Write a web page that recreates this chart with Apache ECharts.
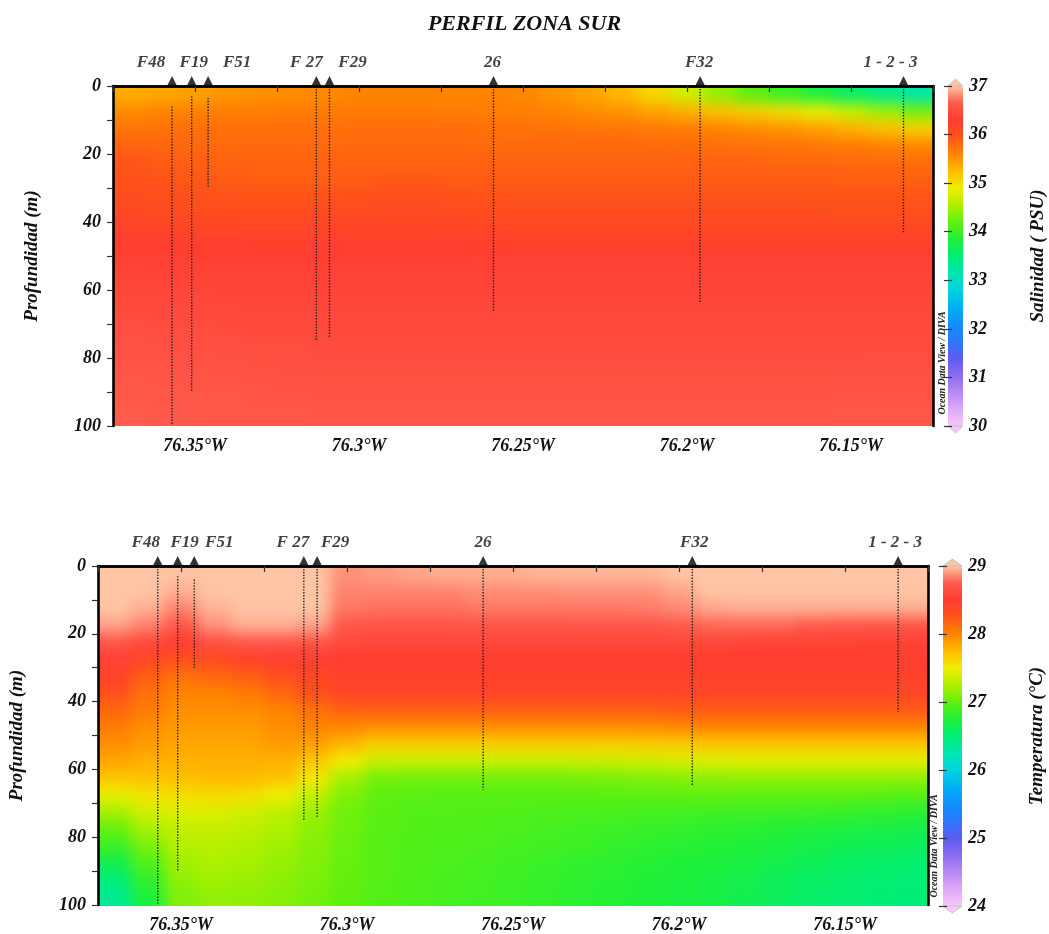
<!DOCTYPE html>
<html>
<head>
<meta charset="utf-8">
<script src="https://cdn.jsdelivr.net/npm/echarts@6/dist/echarts.min.js"></script>
<style>
html,body{margin:0;padding:0;background:#fff}
#chart{width:1049px;height:934px}
/* the gridded fields live on their own layer: soften cell edges, keep them inside the frames */
#chart canvas[data-zr-dom-id="zr_0"]{
  filter: blur(7px);
  clip-path: path('M113 86H933V426H113Z M98 566H928V906H98Z');
}
</style>
</head>
<body>
<div id="chart"></div>
<script>
// Section grid: cell centres (degrees W, metres)
const cellLon = [76.37,76.36,76.35,76.34,76.33,76.32,76.31,76.30,76.29,76.28,76.27,76.26,76.25,76.24,76.23,76.22,76.21,76.20,76.19,76.18,76.17,76.16,76.15,76.14,76.13];
const cellDepth = [2.5,7.5,12.5,17.5,22.5,27.5,32.5,37.5,42.5,47.5,52.5,57.5,62.5,67.5,72.5,77.5,82.5,87.5,92.5,97.5];

// Salinity (PSU), one row per depth level, west to east
const salinity = [
[35.35,35.38,35.42,35.48,35.52,35.55,35.57,35.60,35.60,35.60,35.60,35.60,35.58,35.50,35.40,35.28,35.05,34.72,34.42,34.18,34.00,33.80,33.58,33.38,33.20],
[35.55,35.60,35.62,35.65,35.65,35.66,35.66,35.67,35.67,35.67,35.66,35.65,35.63,35.60,35.55,35.50,35.42,35.33,35.22,35.12,35.02,34.88,34.68,34.48,34.30],
[35.72,35.74,35.75,35.75,35.75,35.75,35.75,35.76,35.76,35.76,35.76,35.75,35.74,35.73,35.72,35.70,35.68,35.65,35.60,35.55,35.50,35.42,35.32,35.22,35.10],
[35.85,35.82,35.80,35.80,35.80,35.80,35.80,35.80,35.80,35.80,35.80,35.80,35.80,35.80,35.80,35.80,35.80,35.78,35.76,35.74,35.72,35.70,35.66,35.62,35.58],
[35.95,35.90,35.86,35.85,35.84,35.84,35.84,35.84,35.85,35.85,35.85,35.85,35.85,35.85,35.85,35.85,35.85,35.85,35.84,35.83,35.82,35.82,35.80,35.80,35.78],
[36.00,35.96,35.92,35.90,35.88,35.88,35.88,35.90,35.92,35.92,35.90,35.90,35.90,35.90,35.90,35.90,35.90,35.90,35.90,35.90,35.90,35.90,35.88,35.88,35.86],
[36.05,36.02,36.00,35.98,35.96,35.96,35.98,36.00,36.02,36.02,36.00,35.98,35.97,35.97,35.97,35.97,35.97,35.97,35.97,35.97,35.97,35.96,35.95,35.95,35.94],
[36.12,36.10,36.08,36.07,36.06,36.06,36.08,36.10,36.10,36.10,36.08,36.07,36.06,36.06,36.06,36.06,36.06,36.06,36.06,36.06,36.06,36.05,36.04,36.04,36.04],
[36.22,36.20,36.19,36.18,36.17,36.17,36.18,36.19,36.19,36.19,36.18,36.17,36.16,36.16,36.16,36.16,36.16,36.16,36.16,36.16,36.16,36.16,36.16,36.16,36.16],
[36.31,36.30,36.29,36.28,36.27,36.27,36.27,36.27,36.27,36.27,36.27,36.26,36.26,36.26,36.26,36.26,36.26,36.26,36.26,36.26,36.26,36.26,36.26,36.26,36.26],
[36.37,36.36,36.36,36.35,36.35,36.35,36.35,36.35,36.35,36.35,36.35,36.35,36.35,36.35,36.35,36.35,36.35,36.35,36.35,36.35,36.35,36.35,36.35,36.35,36.35],
[36.41,36.40,36.40,36.39,36.39,36.39,36.39,36.39,36.39,36.39,36.39,36.39,36.39,36.39,36.39,36.39,36.39,36.39,36.39,36.39,36.39,36.39,36.39,36.39,36.39],
[36.45,36.44,36.43,36.42,36.42,36.42,36.42,36.42,36.42,36.42,36.42,36.42,36.42,36.42,36.42,36.42,36.42,36.42,36.42,36.42,36.42,36.42,36.42,36.42,36.42],
[36.49,36.48,36.47,36.46,36.45,36.45,36.45,36.45,36.45,36.45,36.45,36.45,36.45,36.45,36.45,36.45,36.45,36.45,36.45,36.45,36.45,36.45,36.45,36.45,36.45],
[36.52,36.51,36.50,36.49,36.48,36.47,36.47,36.47,36.47,36.47,36.47,36.47,36.47,36.47,36.47,36.47,36.47,36.47,36.47,36.47,36.47,36.47,36.47,36.47,36.47],
[36.55,36.54,36.53,36.52,36.51,36.50,36.49,36.49,36.49,36.49,36.49,36.49,36.49,36.49,36.49,36.49,36.49,36.49,36.49,36.49,36.49,36.49,36.49,36.49,36.49],
[36.58,36.57,36.56,36.55,36.53,36.52,36.51,36.51,36.51,36.51,36.51,36.51,36.51,36.51,36.51,36.51,36.51,36.51,36.51,36.51,36.51,36.51,36.51,36.52,36.52],
[36.61,36.60,36.59,36.58,36.56,36.55,36.54,36.54,36.54,36.54,36.54,36.54,36.54,36.54,36.54,36.54,36.54,36.54,36.54,36.54,36.54,36.54,36.55,36.55,36.55],
[36.64,36.63,36.62,36.61,36.59,36.58,36.57,36.57,36.57,36.57,36.57,36.57,36.57,36.57,36.57,36.57,36.57,36.57,36.57,36.57,36.57,36.57,36.58,36.58,36.58],
[36.66,36.65,36.64,36.63,36.62,36.61,36.60,36.60,36.60,36.60,36.60,36.60,36.60,36.60,36.60,36.60,36.60,36.60,36.60,36.60,36.60,36.60,36.61,36.61,36.61]
];

// Temperature (°C), one row per depth level, west to east
const temperature = [
[29.00,29.00,29.00,29.00,29.00,29.00,29.00,28.88,28.90,28.93,28.95,28.95,28.95,28.97,28.97,28.97,28.97,29.00,29.00,29.00,29.00,29.00,29.00,29.00,29.00],
[29.00,29.00,28.95,29.00,29.00,29.00,29.00,28.85,28.85,28.85,28.85,28.87,28.87,28.87,28.88,28.88,28.88,28.92,29.00,29.00,29.00,29.00,29.00,29.00,29.00],
[29.00,28.95,28.85,28.96,29.00,29.00,29.00,28.82,28.80,28.80,28.80,28.82,28.82,28.82,28.82,28.82,28.83,28.86,28.93,28.95,28.95,28.95,28.95,28.95,28.95],
[28.92,28.84,28.72,28.88,28.95,28.95,28.92,28.72,28.70,28.70,28.70,28.70,28.70,28.70,28.72,28.72,28.72,28.75,28.78,28.78,28.78,28.75,28.72,28.70,28.70],
[28.70,28.60,28.52,28.64,28.72,28.72,28.70,28.62,28.60,28.60,28.60,28.60,28.60,28.60,28.60,28.60,28.60,28.58,28.58,28.56,28.55,28.55,28.55,28.55,28.55],
[28.55,28.40,28.30,28.35,28.45,28.50,28.52,28.50,28.48,28.48,28.48,28.48,28.48,28.48,28.48,28.48,28.48,28.48,28.48,28.48,28.48,28.48,28.48,28.48,28.48],
[28.45,28.20,28.10,28.15,28.20,28.30,28.40,28.45,28.45,28.45,28.45,28.45,28.45,28.45,28.45,28.45,28.45,28.45,28.45,28.45,28.45,28.45,28.45,28.45,28.45],
[28.30,28.10,28.00,28.00,28.05,28.15,28.30,28.42,28.42,28.42,28.42,28.42,28.42,28.42,28.42,28.42,28.42,28.40,28.40,28.40,28.40,28.40,28.40,28.40,28.40],
[28.15,28.05,27.95,27.95,27.95,28.00,28.10,28.18,28.20,28.20,28.20,28.20,28.20,28.20,28.20,28.20,28.20,28.22,28.22,28.22,28.22,28.22,28.22,28.22,28.22],
[28.05,27.95,27.90,27.90,27.90,27.95,28.00,27.98,27.95,27.95,27.95,27.95,27.95,27.95,27.95,27.95,27.96,27.98,28.00,28.00,28.00,28.00,28.00,28.00,28.00],
[27.95,27.90,27.85,27.85,27.85,27.90,27.88,27.78,27.65,27.65,27.65,27.65,27.65,27.65,27.65,27.65,27.66,27.68,27.70,27.70,27.70,27.70,27.70,27.70,27.70],
[27.85,27.80,27.80,27.80,27.80,27.80,27.70,27.50,27.35,27.35,27.35,27.35,27.35,27.35,27.35,27.36,27.38,27.40,27.42,27.44,27.45,27.45,27.45,27.45,27.45],
[27.70,27.72,27.74,27.76,27.76,27.72,27.52,27.22,27.06,27.05,27.05,27.05,27.05,27.05,27.06,27.08,27.10,27.12,27.14,27.15,27.15,27.15,27.15,27.15,27.15],
[27.48,27.55,27.58,27.60,27.58,27.50,27.32,27.10,27.00,26.98,26.97,26.97,26.97,26.97,26.97,26.98,26.99,27.00,27.00,27.00,27.00,27.00,27.00,26.98,26.96],
[27.22,27.38,27.42,27.42,27.38,27.30,27.18,27.05,26.98,26.95,26.95,26.95,26.94,26.93,26.92,26.91,26.90,26.89,26.88,26.87,26.86,26.85,26.84,26.82,26.80],
[27.02,27.22,27.32,27.33,27.30,27.24,27.14,27.04,26.97,26.95,26.94,26.93,26.92,26.90,26.88,26.86,26.84,26.82,26.80,26.78,26.76,26.74,26.72,26.70,26.68],
[26.86,27.08,27.26,27.28,27.25,27.20,27.12,27.03,26.96,26.94,26.93,26.92,26.90,26.88,26.86,26.83,26.80,26.78,26.76,26.74,26.72,26.68,26.64,26.62,26.60],
[26.66,26.94,27.20,27.24,27.22,27.17,27.10,27.02,26.96,26.94,26.92,26.90,26.88,26.85,26.82,26.80,26.77,26.75,26.73,26.70,26.66,26.62,26.58,26.56,26.54],
[26.50,26.82,27.15,27.20,27.18,27.14,27.08,27.01,26.96,26.93,26.91,26.89,26.86,26.83,26.80,26.78,26.75,26.73,26.70,26.67,26.62,26.58,26.55,26.53,26.52],
[26.38,26.72,27.10,27.16,27.15,27.12,27.06,27.00,26.95,26.93,26.90,26.88,26.85,26.82,26.79,26.76,26.74,26.72,26.69,26.65,26.60,26.56,26.53,26.51,26.50]
];

// Stations: name, longitude (°W), sampled depth span of each cast (m)
const stationNames = ['F48','F19','F51','F 27','F29','26','F32','1 - 2 - 3'];
const stationLon   = [76.357,76.351,76.346,76.313,76.309,76.259,76.196,76.134];
const salCastTop    = [6,3,3.5,0,0,0,0,0];
const salCastBottom = [100,90,30,75,74,66,64,43];
const tempCastTop    = [0,3,4,0,0,0,0,0];
const tempCastBottom = [100,90,30,75,74,66,65,43];

// Axis ticks and labels
const lonTicks = [76.375,76.35,76.325,76.3,76.275,76.25,76.225,76.2,76.175,76.15,76.125];
const lonLabels = [76.35,76.3,76.25,76.2,76.15];
const depthTicks = [0,10,20,30,40,50,60,70,80,90,100];
const depthLabels = [0,20,40,60,80,100];
const salScale = [30,31,32,33,34,35,36,37];
const tempScale = [24,25,26,27,28,29];

// ---- rendering ----
const palette = ['#f5c8fa','#e0a8f8','#b888f4','#8a6cf0','#5c5cf0','#2c78fc','#1090fc','#00b0f4','#00d4e0','#00e6b0',
                 '#00ee78','#20f038','#60f010','#b0f000','#f0ee00','#ffbc00','#ff8400','#ff5418','#ff3c30','#ff5a4c','#ffc4a4'];
const SERIF = 'Liberation Serif';
const txt = (size) => ({fontFamily: SERIF, fontWeight: 'bold', fontStyle: 'italic', fontSize: size, color: '#111'});
const TOP = 1; // layer for frames, labels and markers

const panels = [
  {grid: {left: 113, top: 86, width: 820, height: 340}, bar: {left: 948, top: 86, width: 15, height: 340},
   field: salinity, castTop: salCastTop, castBottom: salCastBottom, scale: salScale,
   name: 'Salinidad ( PSU)', nameGap: 66, nudge: [-21, 2, 29, -10, 23, -1, -1, -13], odv: [942, 363]},
  {grid: {left: 98, top: 566, width: 830, height: 340}, bar: {left: 943, top: 566, width: 19, height: 340},
   field: temperature, castTop: tempCastTop, castBottom: tempCastBottom, scale: tempScale,
   name: 'Temperatura (°C)', nameGap: 66, nudge: [-12, 7, 25, -11, 18, 0, 2, -3], odv: [934, 846]}
];

function fieldData(rows) {
  const out = [];
  rows.forEach((row, r) => row.forEach((v, c) => out.push([cellLon[c], cellDepth[r], v])));
  return out;
}

// each cell is a rectangle; border cells run on past the frame so the softened layer stays solid to the edge
function cellRenderer(params, api) {
  const nC = cellLon.length, nR = cellDepth.length, pad = 30;
  const c = params.dataIndex % nC, r = Math.floor(params.dataIndex / nC);
  const lon = api.value(0), d = api.value(1);
  const a = api.coord([lon + 0.005, d - 2.5]);
  const b = api.coord([lon - 0.005, d + 2.5]);
  let x0 = Math.min(a[0], b[0]), x1 = Math.max(a[0], b[0]) + 0.8;
  let y0 = Math.min(a[1], b[1]), y1 = Math.max(a[1], b[1]) + 0.8;
  if (c === 0) x0 -= pad;
  if (c === nC - 1) x1 += pad;
  if (r === 0) y0 -= pad;
  if (r === nR - 1) y1 += pad;
  return {type: 'rect', shape: {x: x0, y: y0, width: x1 - x0, height: y1 - y0},
    style: {fill: api.visual('color')}};
}

function castRenderer(params, api) {
  const a = api.coord([api.value(0), api.value(1)]);
  const b = api.coord([api.value(0), api.value(2)]);
  return {type: 'line', shape: {x1: a[0], y1: a[1], x2: b[0], y2: b[1]},
    style: {stroke: '#222', lineWidth: 1.4, lineDash: [1.4, 1.5]}};
}

function capRenderer(params, api) {
  const v = api.value(0), dir = api.value(1);
  const l = api.coord([0, v]), r = api.coord([1, v]);
  const w = r[0] - l[0];
  return {type: 'polygon',
    shape: {points: [[l[0], l[1]], [l[0] + w / 2, l[1] + dir * 7], [r[0], r[1]]]},
    style: {fill: dir < 0 ? palette[palette.length - 1] : palette[0], stroke: '#bbb', lineWidth: 0.8}};
}

const grids = [], xAxes = [], yAxes = [], series = [], visualMaps = [], graphics = [];

panels.forEach((p, i) => {
  const g = grids.length;
  grids.push(p.grid);
  const cb = grids.length;
  grids.push(p.bar);

  const frameLine = {show: true, lineStyle: {color: '#000', width: 2.6}};
  xAxes.push({gridIndex: g, type: 'value', min: 76.125, max: 76.375, inverse: true, zlevel: TOP, z: 10,
    axisLine: frameLine,
    axisTick: {show: true, customValues: lonTicks, length: 6, lineStyle: {color: '#333', width: 1.2}},
    axisLabel: {customValues: lonLabels, margin: 11, formatter: v => v + '°W', ...txt(18)},
    splitLine: {show: false}});
  xAxes.push({gridIndex: g, type: 'value', position: 'top', min: 76.125, max: 76.375, inverse: true, zlevel: TOP, z: 10,
    axisLine: frameLine, axisTick: {show: false}, axisLabel: {show: false}, splitLine: {show: false}});
  xAxes.push({gridIndex: cb, type: 'value', min: 0, max: 1, show: false});

  yAxes.push({gridIndex: g, type: 'value', min: 0, max: 100, inverse: true, zlevel: TOP, z: 10,
    name: 'Profundidad (m)', nameLocation: 'middle', nameGap: 71, nameRotate: 90, nameTextStyle: txt(19),
    axisLine: frameLine,
    axisTick: {show: true, customValues: depthTicks, length: 6, lineStyle: {color: '#333', width: 1.2}},
    axisLabel: {customValues: depthLabels, margin: 12, ...txt(18)},
    splitLine: {show: false}});
  yAxes.push({gridIndex: g, type: 'value', position: 'right', min: 0, max: 100, inverse: true, zlevel: TOP, z: 10,
    axisLine: frameLine, axisTick: {show: false}, axisLabel: {show: false}, splitLine: {show: false}});
  const smin = p.scale[0], smax = p.scale[p.scale.length - 1];
  yAxes.push({gridIndex: cb, type: 'value', position: 'right', min: smin, max: smax, interval: 1, zlevel: TOP, z: 10,
    name: p.name, nameLocation: 'middle', nameGap: p.nameGap, nameRotate: 90, nameTextStyle: txt(19),
    axisLine: {show: false},
    axisTick: {show: true, inside: true, length: 4, lineStyle: {color: '#333', width: 1.2}},
    axisLabel: {margin: 6, ...txt(18)}, splitLine: {show: false}});
  yAxes.push({gridIndex: cb, type: 'value', position: 'left', min: smin, max: smax, interval: 1, zlevel: TOP, z: 10,
    axisLine: {show: false},
    axisTick: {show: true, inside: true, length: 4, lineStyle: {color: '#333', width: 1.2}},
    axisLabel: {show: false}, splitLine: {show: false}});

  const xi = i * 3, yi = i * 4;
  const fieldIndex = series.length;
  series.push({type: 'custom', xAxisIndex: xi, yAxisIndex: yi, renderItem: cellRenderer, zlevel: 0,
    dimensions: ['lon', 'depth', 'value'], encode: {x: 0, y: 1}, data: fieldData(p.field), silent: true, clip: false, z: 1});
  series.push({type: 'custom', xAxisIndex: xi, yAxisIndex: yi, renderItem: castRenderer, zlevel: TOP,
    encode: {x: 0, y: [1, 2]}, silent: true, z: 3,
    data: stationLon.map((lon, k) => [lon, p.castTop[k], p.castBottom[k]])});
  series.push({type: 'scatter', xAxisIndex: xi, yAxisIndex: yi, symbol: 'triangle', symbolSize: [10, 10],
    symbolOffset: [0, -5], clip: false, silent: true, zlevel: TOP, z: 12, itemStyle: {color: '#000'},
    label: {show: true, position: 'top', distance: 5, formatter: q => q.name, ...txt(17)},
    data: stationLon.map((lon, k) => ({name: stationNames[k], value: [lon, 0], label: {offset: [p.nudge[k], 0]}}))});
  series.push({type: 'custom', xAxisIndex: xi + 2, yAxisIndex: yi + 2, renderItem: capRenderer, silent: true,
    zlevel: TOP, encode: {x: -1, y: 0}, data: [[smax, -1], [smin, 1]], clip: false, z: 5});

  visualMaps.push({type: 'continuous', seriesIndex: fieldIndex, dimension: 2, min: smin, max: smax, zlevel: TOP,
    inRange: {color: palette}, calculable: false, hoverLink: false, orient: 'vertical', padding: 0,
    left: p.bar.left, top: p.bar.top, itemWidth: p.bar.width, itemHeight: p.bar.height, text: null, showLabel: false});

  graphics.push({type: 'text', zlevel: TOP, z: 20, x: p.odv[0], y: p.odv[1], rotation: Math.PI / 2,
    style: {text: 'Ocean Data View / DIVA', font: 'bold italic 10px "Liberation Serif"', fill: '#222',
      align: 'center', verticalAlign: 'middle'}});
});

const chart = echarts.init(document.getElementById('chart'), null, {renderer: 'canvas'});
chart.setOption({
  animation: false,
  title: {text: 'PERFIL ZONA SUR', left: 'center', top: 8, zlevel: TOP, textStyle: txt(22)},
  grid: grids, xAxis: xAxes, yAxis: yAxes, visualMap: visualMaps, series: series,
  graphic: {elements: graphics}
});
</script>
</body>
</html>
